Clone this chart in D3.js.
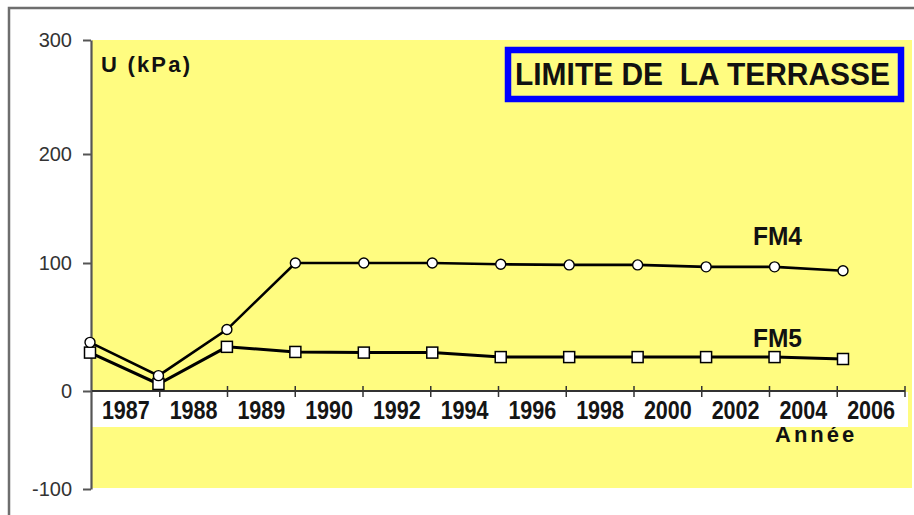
<!DOCTYPE html>
<html><head><meta charset="utf-8">
<script src="https://cdn.jsdelivr.net/npm/d3@7"></script>
<style>body{margin:0;background:#fff}svg{display:block}text{font-family:Arial,"Liberation Sans",sans-serif}</style>
</head><body><svg id="c" width="914" height="515"></svg>
<script>
const yearLabels = ["1987","1988","1989","1990","1992","1994","1996","1998","2000","2002","2004","2006"];
const pointIdx = [0,1,2,3,4,5,6,7,8,9,10,11];
const fm4 = [38, 12, 48, 100, 100, 100, 99, 98.5, 98.5, 97, 97, 94];
const fm5 = [30, 5.5, 34.5, 30.5, 30, 30, 26.5, 26.5, 26.5, 26.5, 26.5, 25];
const yTicks = [-100, 0, 100, 200, 300];
const title = "LIMITE DE  LA TERRASSE";

const svg = d3.select("#c");
// outer frame
svg.append("path").attr("d","M9,515 V8 H914").attr("fill","none").attr("stroke","#6e6e6e").attr("stroke-width",2.5);

const y = d3.scaleLinear().domain(yTicks).range([489, 391, 263, 154, 40]);
const xBand = d3.scaleBand().domain(yearLabels).range([92, 905]).paddingInner(0).paddingOuter(0);
const xPt = d3.scalePoint().domain(pointIdx).range([90, 843]);

// plot area
svg.append("rect").attr("x",92).attr("y",40).attr("width",820).attr("height",448).attr("fill","#fffc80");

// "Année" (partly hidden under the label strip)
svg.append("text").attr("x",775).attr("y",442).attr("font-weight","bold").attr("font-size",22)
  .attr("letter-spacing",3).attr("fill","#111").text("Année");

// white label strip
svg.append("rect").attr("x",92).attr("y",392).attr("width",816).attr("height",35).attr("fill","#fff");

// y axis
const yAxis = svg.append("g").attr("transform","translate(91,0)")
  .call(d3.axisLeft(y).tickValues(yTicks).tickSize(8).tickSizeOuter(0).tickFormat(d => String(d)));
yAxis.select(".domain").attr("stroke","#555").attr("stroke-width",2.2);
yAxis.selectAll(".tick line").attr("stroke","#555").attr("stroke-width",2);
yAxis.selectAll(".tick text").attr("font-size",20).attr("fill","#333").attr("x",-19)
  .attr("font-family","Arial, 'Liberation Sans', sans-serif");

// x axis line + ticks
const bounds = yearLabels.map(d => xBand(d) + xBand.bandwidth());
svg.append("line").attr("x1",92).attr("x2",905).attr("y1",y(0)).attr("y2",y(0)).attr("stroke","#333").attr("stroke-width",2);
svg.selectAll("line.xt").data(bounds).join("line").attr("class","xt")
  .attr("x1",d=>d).attr("x2",d=>d).attr("y1",y(0)-5).attr("y2",y(0)+6).attr("stroke","#333").attr("stroke-width",1.5);
svg.selectAll("text.xl").data(yearLabels).join("text").attr("class","xl")
  .attr("x",d=>xBand(d)+xBand.bandwidth()/2).attr("y",419).attr("text-anchor","middle")
  .attr("font-weight","bold").attr("font-size",25).attr("textLength",48).attr("lengthAdjust","spacingAndGlyphs")
  .attr("fill","#151515").text(d=>d);

// lines
const line = d3.line().x((d,i)=>xPt(pointIdx[i])).y(d=>y(d));
svg.append("path").datum(fm5).attr("d",line).attr("fill","none").attr("stroke","#000").attr("stroke-width",3);
svg.append("path").datum(fm4).attr("d",line).attr("fill","none").attr("stroke","#000").attr("stroke-width",2.6);

// markers
svg.selectAll("rect.m5").data(fm5).join("rect").attr("class","m5")
  .attr("x",(d,i)=>xPt(pointIdx[i])-5.5).attr("y",d=>y(d)-5.5).attr("width",11).attr("height",11)
  .attr("fill","#fff").attr("stroke","#000").attr("stroke-width",1.5);
svg.selectAll("circle.m4").data(fm4).join("circle").attr("class","m4")
  .attr("cx",(d,i)=>xPt(pointIdx[i])).attr("cy",d=>y(d)).attr("r",5)
  .attr("fill","#fff").attr("stroke","#000").attr("stroke-width",1.4);

// series labels
svg.append("text").attr("x",753).attr("y",245).attr("font-weight","bold").attr("font-size",26)
  .attr("textLength",49).attr("lengthAdjust","spacingAndGlyphs").attr("fill","#111").text("FM4");
svg.append("text").attr("x",753).attr("y",347).attr("font-weight","bold").attr("font-size",26)
  .attr("textLength",49).attr("lengthAdjust","spacingAndGlyphs").attr("fill","#111").text("FM5");

// y title
svg.append("text").attr("x",101).attr("y",72).attr("font-weight","bold").attr("font-size",22)
  .attr("textLength",89).attr("lengthAdjust","spacing").attr("fill","#111").text("U (kPa)");

// title box
svg.append("rect").attr("x",508).attr("y",50).attr("width",393).attr("height",49)
  .attr("fill","#fffc80").attr("stroke","#0000ff").attr("stroke-width",6.5);
svg.append("text").attr("x",515).attr("y",85).attr("font-weight","bold").attr("font-size",31)
  .attr("textLength",375).attr("lengthAdjust","spacingAndGlyphs").attr("fill","#111")
  .attr("xml:space","preserve").style("white-space","pre").text(title);
</script></body></html>
